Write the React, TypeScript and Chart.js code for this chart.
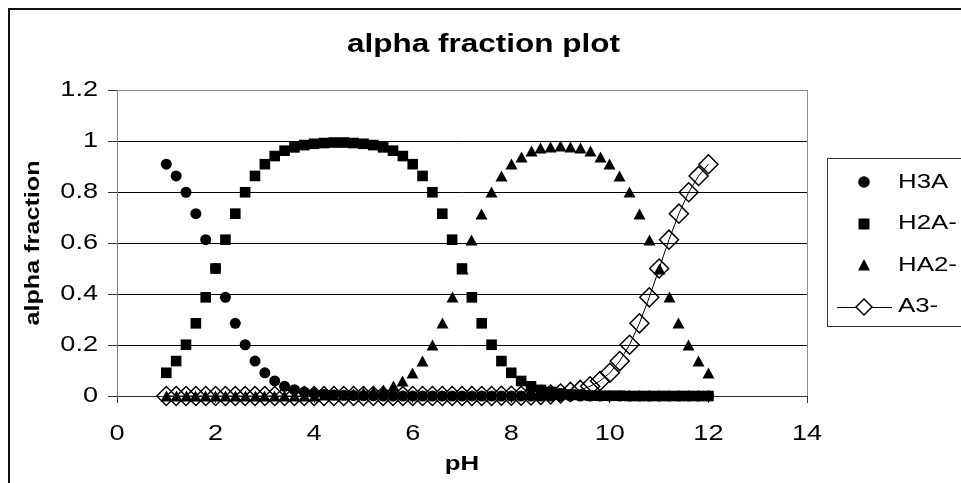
import React, { useEffect, useRef } from 'react';
import { Chart, registerables } from 'chart.js';

Chart.register(...registerables);

// ---- data ----
const pH = [
  1.0, 1.2, 1.4, 1.6, 1.8, 2.0, 2.2, 2.4, 2.6, 2.8,
  3.0, 3.2, 3.4, 3.6, 3.8, 4.0, 4.2, 4.4, 4.6, 4.8,
  5.0, 5.2, 5.4, 5.6, 5.8, 6.0, 6.2, 6.4, 6.6, 6.8,
  7.0, 7.2, 7.4, 7.6, 7.8, 8.0, 8.2, 8.4, 8.6, 8.8,
  9.0, 9.2, 9.4, 9.6, 9.8, 10.0, 10.2, 10.4, 10.6, 10.8,
  11.0, 11.2, 11.4, 11.6, 11.8, 12.0,
];
const H3A = [
  0.909, 0.863, 0.799, 0.715, 0.613, 0.5, 0.387, 0.285, 0.201, 0.137,
  0.091, 0.059, 0.038, 0.025, 0.016, 0.010, 0.006, 0.004, 0.003, 0.002,
  0.001, 0.001, 0, 0, 0, 0, 0, 0, 0, 0,
  0, 0, 0, 0, 0, 0, 0, 0, 0, 0,
  0, 0, 0, 0, 0, 0, 0, 0, 0, 0,
  0, 0, 0, 0, 0, 0,
];
const H2A = [
  0.091, 0.137, 0.201, 0.285, 0.387, 0.5, 0.613, 0.715, 0.799, 0.863,
  0.909, 0.941, 0.962, 0.975, 0.984, 0.989, 0.992, 0.994, 0.994, 0.992,
  0.989, 0.984, 0.975, 0.962, 0.941, 0.909, 0.863, 0.799, 0.715, 0.613,
  0.5, 0.387, 0.285, 0.201, 0.137, 0.091, 0.059, 0.038, 0.024, 0.016,
  0.010, 0.006, 0.004, 0.002, 0.001, 0.001, 0.001, 0, 0, 0,
  0, 0, 0, 0, 0, 0,
];
const HA2 = [
  0, 0, 0, 0, 0, 0, 0, 0, 0, 0,
  0, 0, 0, 0, 0.001, 0.001, 0.002, 0.002, 0.004, 0.006,
  0.010, 0.016, 0.025, 0.038, 0.059, 0.091, 0.137, 0.201, 0.285, 0.387,
  0.5, 0.613, 0.715, 0.799, 0.863, 0.908, 0.939, 0.959, 0.972, 0.978,
  0.980, 0.978, 0.972, 0.959, 0.939, 0.908, 0.863, 0.799, 0.715, 0.613,
  0.5, 0.387, 0.285, 0.201, 0.137, 0.091,
];
const A3 = [
  0, 0, 0, 0, 0, 0, 0, 0, 0, 0,
  0, 0, 0, 0, 0, 0, 0, 0, 0, 0,
  0, 0, 0, 0, 0, 0, 0, 0, 0, 0,
  0, 0, 0, 0, 0.001, 0.001, 0.001, 0.002, 0.004, 0.006,
  0.010, 0.016, 0.024, 0.038, 0.059, 0.091, 0.137, 0.201, 0.285, 0.387,
  0.5, 0.613, 0.715, 0.799, 0.863, 0.909,
];
const seriesNames = ['H3A', 'H2A-', 'HA2-', 'A3-'];
const chartTitle = 'alpha fraction plot';
const xTitle = 'pH';
const yTitle = 'alpha fraction';
const xMin = 0, xMax = 14, xStep = 2;
const yMin = 0, yMax = 1.2, yStep = 0.2;

// ---- styling ----
const FONT = "'Liberation Sans', Arial, Helvetica, sans-serif";
const STRETCH = 1.26; // the reference text is horizontally widened

function stretchText(ctx: any) {
  if (ctx.__stretched) return;
  ctx.__stretched = true;
  const fill = ctx.fillText.bind(ctx);
  const measure = ctx.measureText.bind(ctx);
  ctx.fillText = (text: string, x: number, y: number, maxWidth?: number) => {
    ctx.save();
    ctx.translate(x, y);
    ctx.scale(STRETCH, 1);
    if (maxWidth === undefined || maxWidth === null) fill(text, 0, 0);
    else fill(text, 0, 0, maxWidth / STRETCH);
    ctx.restore();
  };
  ctx.measureText = (text: string) => {
    const m = measure(text);
    return {
      width: m.width * STRETCH,
      actualBoundingBoxLeft: m.actualBoundingBoxLeft * STRETCH,
      actualBoundingBoxRight: m.actualBoundingBoxRight * STRETCH,
      actualBoundingBoxAscent: m.actualBoundingBoxAscent,
      actualBoundingBoxDescent: m.actualBoundingBoxDescent,
      fontBoundingBoxAscent: m.fontBoundingBoxAscent,
      fontBoundingBoxDescent: m.fontBoundingBoxDescent,
    };
  };
}

function makeCanvas(w: number, h: number, draw: (g: CanvasRenderingContext2D) => void) {
  const c = document.createElement('canvas');
  c.width = w;
  c.height = h;
  const g = c.getContext('2d')!;
  draw(g);
  return c;
}

const decor = {
  id: 'decor',
  beforeDraw(chart: any) {
    const { ctx } = chart;
    ctx.save();
    ctx.fillStyle = '#ffffff';
    ctx.fillRect(0, 0, chart.width, chart.height);
    ctx.fillStyle = '#111111';
    ctx.fillRect(8, 8, chart.width, 2);
    ctx.fillRect(8, 8, 2, chart.height);
    ctx.restore();
    ctx.imageSmoothingEnabled = false;
  },
  beforeDatasetsDraw(chart: any) {
    const { ctx, chartArea: a } = chart;
    ctx.save();
    ctx.strokeStyle = '#8c8c8c';
    ctx.lineWidth = 1;
    ctx.beginPath();
    const x = Math.round(a.right) + 0.5;
    ctx.moveTo(x, a.top);
    ctx.lineTo(x, a.bottom);
    ctx.stroke();
    ctx.restore();
  },
  afterDraw(chart: any) {
    const { ctx } = chart;
    const lg = chart.legend;
    if (!lg) return;
    ctx.save();
    ctx.strokeStyle = '#333333';
    ctx.lineWidth = 1;
    const x = Math.round(lg.left + 20) + 0.5;
    const top = Math.round(lg.top + 68) + 0.5;
    const bottom = Math.round(lg.top + 236) + 0.5;
    ctx.strokeRect(x, top, chart.width + 20 - x, bottom - top);
    ctx.restore();
  },
};

export default function App() {
  const ref = useRef<HTMLCanvasElement>(null);

  useEffect(() => {
    const canvas = ref.current!;
    const ctx = canvas.getContext('2d')!;
    stretchText(ctx);

    const triMarker = makeCanvas(13, 12, (g) => {
      g.fillStyle = '#000';
      g.beginPath();
      g.moveTo(6.5, 0.5);
      g.lineTo(12.5, 11.5);
      g.lineTo(0.5, 11.5);
      g.closePath();
      g.fill();
    });

    const LW = 80, LH = 30, MX = 46, MY = 15;
    const legCircle = makeCanvas(LW, LH, (g) => {
      g.fillStyle = '#000';
      g.beginPath();
      g.arc(MX, MY, 5.8, 0, Math.PI * 2);
      g.fill();
    });
    const legSquare = makeCanvas(LW, LH, (g) => {
      g.fillStyle = '#000';
      g.fillRect(MX - 5.5, MY - 5.5, 11, 11);
    });
    const legTri = makeCanvas(LW, LH, (g) => {
      g.fillStyle = '#000';
      g.beginPath();
      g.moveTo(MX, MY - 6);
      g.lineTo(MX + 6, MY + 5.5);
      g.lineTo(MX - 6, MY + 5.5);
      g.closePath();
      g.fill();
    });
    const legDiamond = makeCanvas(LW, LH, (g) => {
      g.strokeStyle = '#000';
      g.lineWidth = 1;
      g.beginPath();
      g.moveTo(MX - 27, MY + 0.5);
      g.lineTo(MX + 28, MY + 0.5);
      g.stroke();
      g.fillStyle = '#fff';
      g.lineWidth = 1.5;
      g.beginPath();
      g.moveTo(MX, MY - 8);
      g.lineTo(MX + 8, MY);
      g.lineTo(MX, MY + 8);
      g.lineTo(MX - 8, MY);
      g.closePath();
      g.fill();
      g.stroke();
    });
    const legendImgs = [legCircle, legSquare, legTri, legDiamond];

    const toPts = (ys: number[]) => pH.map((x, i) => ({ x, y: ys[i] }));

    const chart = new Chart(canvas, {
      type: 'scatter',
      data: {
        datasets: [
          {
            label: seriesNames[0],
            data: toPts(H3A),
            showLine: false,
            pointStyle: 'circle',
            pointRadius: 5.5,
            pointBackgroundColor: '#000',
            pointBorderColor: '#000',
            pointBorderWidth: 0,
            order: 4,
            clip: false,
          },
          {
            label: seriesNames[1],
            data: toPts(H2A),
            showLine: false,
            pointStyle: 'rect',
            pointRadius: 7.5,
            pointBackgroundColor: '#000',
            pointBorderColor: '#000',
            pointBorderWidth: 0,
            order: 3,
            clip: false,
          },
          {
            label: seriesNames[2],
            data: toPts(HA2),
            showLine: false,
            pointStyle: triMarker,
            pointRadius: 6,
            pointBackgroundColor: '#000',
            pointBorderColor: '#000',
            pointBorderWidth: 0,
            order: 2,
            clip: false,
          },
          {
            label: seriesNames[3],
            data: toPts(A3),
            showLine: true,
            borderColor: '#000',
            borderWidth: 1,
            tension: 0,
            fill: false,
            pointStyle: 'rectRot',
            pointRadius: 9.5,
            pointBackgroundColor: 'rgba(0,0,0,0)',
            pointBorderColor: '#000',
            pointBorderWidth: 1.5,
            order: 1,
            clip: false,
          },
        ] as any,
      },
      options: {
        responsive: false,
        animation: false,
        events: [],
        devicePixelRatio: 1,
        layout: { padding: { left: 6, top: 0, right: 0, bottom: 0 } },
        plugins: {
          tooltip: { enabled: false },
          title: {
            display: true,
            text: chartTitle,
            color: '#000',
            font: { family: FONT, size: 25, weight: 'bold' },
            padding: { top: 30, bottom: 30 },
          },
          legend: {
            display: true,
            position: 'right',
            align: 'center',
            fullSize: false,
            maxWidth: 154,
            title: { display: true, text: ' ', font: { size: 2, lineHeight: 1.25 }, padding: 0 },
            labels: {
              usePointStyle: true,
              pointStyleWidth: 59.75,
              padding: 21,
              color: '#000',
              font: { family: FONT, size: 20.5 },
              generateLabels: (ch: any) =>
                ch.data.datasets.map((ds: any, i: number) => ({
                  text: ds.label,
                  pointStyle: legendImgs[i],
                  fillStyle: '#000',
                  strokeStyle: '#000',
                  lineWidth: 0,
                  hidden: false,
                  datasetIndex: i,
                  fontColor: '#000',
                })),
            },
          },
        },
        scales: {
          x: {
            type: 'linear',
            min: xMin,
            max: xMax,
            ticks: {
              stepSize: xStep,
              padding: 18.5,
              color: '#000',
              maxRotation: 0,
              font: { family: FONT, size: 21.5 },
              callback: (v: any) => String(Math.round(Number(v) * 10) / 10),
            },
            grid: { drawOnChartArea: false, drawTicks: true, tickLength: 7, color: '#333', lineWidth: 1 },
            border: { display: true, color: '#333', width: 1 },
            title: {
              display: true,
              text: xTitle,
              color: '#000',
              font: { family: FONT, size: 20.5, weight: 'bold' },
              padding: { top: 0, bottom: 6 },
            },
            afterFit: (s: any) => {
              s.height = 87;
            },
          },
          y: {
            type: 'linear',
            min: yMin,
            max: yMax,
            ticks: {
              stepSize: yStep,
              padding: 10,
              color: '#000',
              font: { family: FONT, size: 21.5 },
              callback: (v: any) => String(Math.round(Number(v) * 10) / 10),
            },
            grid: {
              color: (c: any) => (c.tick && c.tick.value > 1.1 ? '#8c8c8c' : '#000'),
              tickColor: '#333',
              tickLength: 9,
              lineWidth: 1,
            },
            border: { display: true, color: '#808080', width: 1 },
            title: {
              display: true,
              text: yTitle,
              color: '#000',
              font: { family: FONT, size: 20, weight: 'bold' },
              padding: { top: 15, bottom: 0 },
            },
            afterFit: (s: any) => {
              s.width = 111;
            },
          },
        },
      } as any,
      plugins: [decor],
    });

    return () => chart.destroy();
  }, []);

  return (
    <canvas
      ref={ref}
      width={961}
      height={483}
      style={{ position: 'absolute', left: 0, top: 0, width: 961, height: 483 }}
    />
  );
}
